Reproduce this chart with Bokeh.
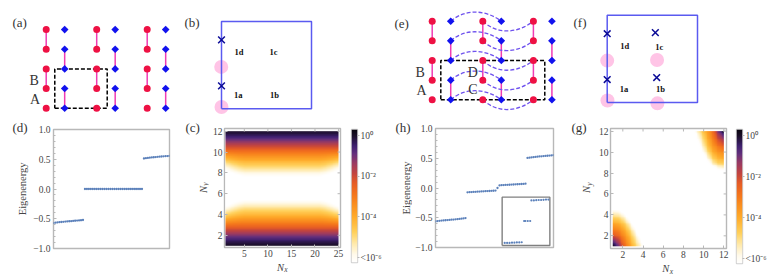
import math
import numpy as np
from bokeh.embed import file_html
from bokeh.layouts import column, row
from bokeh.models import FixedTicker, Label, LinearAxis, LinearColorMapper, Range1d
from bokeh.plotting import figure
from bokeh.resources import INLINE

# ---------- data ----------
red_cols = [0, 1, 2]
blue_cols = [0, 1, 2]
lattice_rows = [0, 1, 2, 3, 4]
red_bonds = [(1, 2), (3, 4)]
blue_bonds = [(0, 1), (2, 3)]
blue_offset = 0.366

b_cross_x = [0, 0]
b_cross_y = [0.79, 0.263]
b_pink_x = [-0.003, 0]
b_pink_y = [0.48, 0.02]
b_names = ["1d", "1c", "1a", "1b"]
b_name_x = [0.144, 0.533, 0.14, 0.54]
b_name_y = [0.645, 0.645, 0.156, 0.156]

f_cross_x = [0, 0.533, 0, 0.548]
f_cross_y = [0.788, 0.80, 0.263, 0.286]
f_pink_x = [0, 0.552, 0.003, 0.556]
f_pink_y = [0.48, 0.486, 0.023, -0.01]
f_names = ["1d", "1c", "1a", "1b"]
f_name_x = [0.144, 0.533, 0.14, 0.54]
f_name_y = [0.650, 0.64, 0.153, 0.153]

d_low = [-0.572, -0.566, -0.562, -0.558, -0.555, -0.552, -0.548, -0.545,
         -0.542, -0.540, -0.537, -0.534, -0.531, -0.528, -0.525, -0.521]
d_mid = [0.0] * 30
d_high = [0.513, 0.518, 0.522, 0.526, 0.530, 0.534, 0.537,
          0.540, 0.543, 0.546, 0.549, 0.551, 0.553, 0.556]

h_low = [-0.561, -0.556, -0.552, -0.548, -0.545, -0.542, -0.539, -0.536,
         -0.533, -0.530, -0.527, -0.524, -0.520, -0.516, -0.511, -0.506]
h_b2 = [-0.072, -0.070, -0.068, -0.066, -0.064, -0.062, -0.060, -0.058,
        -0.056, -0.054, -0.052, -0.050, -0.048, -0.046, -0.044]
h_gap = [0.0]
h_b3 = [0.044, 0.047, 0.049, 0.051, 0.053, 0.055, 0.057,
        0.059, 0.061, 0.063, 0.065, 0.067, 0.069, 0.072]
h_high = [0.505, 0.510, 0.514, 0.518, 0.522, 0.526, 0.530,
          0.533, 0.536, 0.539, 0.542, 0.545, 0.548, 0.552]

inset_x = [1, 2, 3, 4, 5, 6, 7, 8, 9, 9.5, 10.5, 11.5, 12, 13, 14, 15, 16, 17, 18, 19]
inset_y = [-0.100, -0.100, -0.100, -0.099, -0.099, -0.098, -0.098, -0.097,
           0.0, 0.0, 0.0, 0.0, 0.094, 0.094, 0.095, 0.096, 0.096, 0.097, 0.098, 0.098]

# log10 of the weight along Ny at 0.25 steps, panel (c)
c_profile = [0, -0.18, -0.45, -0.8, -1.2, -1.6, -2.0, -2.4, -2.8, -3.2, -3.57,
             -3.93, -4.3, -4.65, -5.0, -5.36, -5.7, -6.05, -6.4, -7, -7, -7, -7, -7, -7, -7,
             -6.4, -6.05, -5.7, -5.36, -5.0, -4.65, -4.3, -3.93, -3.57, -3.2, -2.8,
             -2.4, -2.0, -1.6, -1.2, -0.8, -0.45, -0.18, 0]
# darkening of the faint bands towards the side edges, at Nx = 1, 1.5, 2, ...
c_edge = [-0.8, -0.7, -0.55, -0.42, -0.3, -0.2, -0.12, -0.06] + [0.0] * 33 + \
         [-0.06, -0.12, -0.2, -0.3, -0.42, -0.55, -0.7, -0.8]

g_corner_low = [
    [0.0, -1.0, -2.4, -3.4, -4.4, -5.3, -6.2, -7],
    [-1.0, -1.7, -2.8, -3.7, -4.7, -5.7, -6.6, -7],
    [-2.3, -2.6, -3.3, -4.1, -5.1, -6.2, -7, -7],
    [-3.0, -3.2, -3.8, -4.6, -5.6, -6.8, -7, -7],
    [-3.7, -3.9, -4.4, -5.2, -6.3, -7, -7, -7],
    [-4.5, -4.6, -5.1, -6.0, -7, -7, -7, -7],
    [-5.3, -5.4, -5.9, -6.8, -7, -7, -7, -7],
    [-6.3, -6.4, -7, -7, -7, -7, -7, -7],
]
g_corner_high = [  # from (12, 12) towards lower Nx (columns) and lower Ny (rows)
    [0.0, -1.0, -2.6, -3.6, -4.4, -5.4, -6.4, -7],
    [-1.0, -1.7, -2.9, -3.8, -4.8, -5.8, -7, -7],
    [-1.8, -2.3, -3.2, -4.1, -5.1, -6.2, -7, -7],
    [-2.6, -3.0, -3.6, -4.4, -5.5, -6.7, -7, -7],
    [-3.3, -3.5, -4.0, -4.9, -6.0, -7, -7, -7],
    [-3.9, -4.1, -4.6, -5.5, -6.7, -7, -7, -7],
    [-4.6, -4.7, -5.2, -6.3, -7, -7, -7, -7],
    [-5.6, -5.8, -6.4, -7, -7, -7, -7, -7],
]

energy_ticks = [-1.0, -0.5, 0.0, 0.5, 1.0]
energy_labels = {-1: "−1.0", -0.5: "−0.5", 0: "0.0", 0.5: "0.5", 1: "1.0"}
energy_minor = [-0.9, -0.8, -0.7, -0.6, -0.4, -0.3, -0.2, -0.1, 0.1, 0.2, 0.3, 0.4, 0.6, 0.7, 0.8, 0.9]
c_xticks = [5, 10, 15, 20, 25]
site_ticks = [2, 4, 6, 8, 10, 12]
cbar_ticks = [0, -2, -4, -6]
cbar_labels = {0: "10⁰", -2: "10⁻²", -4: "10⁻⁴", -6: "<10⁻⁶"}

# ---------- style ----------
SERIF = "Liberation Serif"
RED = "#ee1144"
BLUE = "#1212ee"
BOND = "#f03cb4"
WAVE = "#6f52ee"
PINK = "#ffc4e6"
NAVY = "#0a0a96"
BOX = "#5a5af0"
FRAME = "#b8b8b8"
TXT = "#454545"
PT = "#5b80ba"

stops_v = [0.3, 0.0, -0.5, -0.9, -1.35, -1.85, -2.35, -2.9, -3.3, -4.0, -4.75, -5.3, -5.85, -6.24]
stops_c = ["#0a0510", "#1a0e28", "#3f2070", "#64307c", "#9a3a62", "#c2443f", "#e65d25",
           "#f4751c", "#f98a1e", "#ffab2a", "#ffd05a", "#ffe9a8", "#fffaea", "#ffffff"]


def make_palette(n=256):
    out = []
    vs = np.linspace(-6.24, 0.3, n)
    sv = stops_v[::-1]
    sc = [tuple(int(c[i:i + 2], 16) for i in (1, 3, 5)) for c in stops_c[::-1]]
    for v in vs:
        rgb = [int(round(np.interp(v, sv, [s[k] for s in sc]))) for k in range(3)]
        out.append("#%02x%02x%02x" % tuple(rgb))
    return out


mapper = LinearColorMapper(palette=make_palette(), low=-6.24, high=0.3, low_color="#ffffff",
                           high_color="#0a0510")

TOP_T, TOP_B = 0, 118
BOT_T, BOT_B = 118, 275
HEAT_B = 262
COLS = [(0, 183), (183, 392), (392, 568), (568, 770)]


def note(p, l, b, rx, ry, text, size=13, color="#333333", align="left", style="normal",
         angle=0.0):
    # frame of the figure: left edge l, bottom edge b on the page
    p.add_layout(Label(x=rx - l, y=b - ry, x_units="screen", y_units="screen", text=text,
                       text_font=SERIF, text_font_size=f"{size}px", text_color=color,
                       text_align=align, text_baseline="middle", text_font_style=style,
                       angle=angle))


def bare(l, r, t, b, xr=(0, 1), yr=(0, 1)):
    p = figure(width=r - l, height=b - t, output_backend="svg", toolbar_location=None,
               x_range=Range1d(*xr), y_range=Range1d(*yr),
               min_border=0, min_border_left=0, min_border_right=0, min_border_top=0,
               min_border_bottom=0)
    p.axis.visible = False
    p.grid.visible = False
    p.outline_line_color = None
    return p


def scheme(col, x0, sx, y0, sy):
    l, r = COLS[col]
    p = bare(l, r, TOP_T, TOP_B, ((l - x0) / sx, (r - x0) / sx),
             ((y0 - TOP_B) / sy, (y0 - TOP_T) / sy))
    return p, l, TOP_B


def lattice(p):
    xs0, ys0, xs1, ys1 = [], [], [], []
    for c in red_cols:
        for a, b in red_bonds:
            xs0.append(c); xs1.append(c); ys0.append(a); ys1.append(b)
    for c in blue_cols:
        for a, b in blue_bonds:
            xs0.append(c + blue_offset); xs1.append(c + blue_offset); ys0.append(a); ys1.append(b)
    p.segment(xs0, ys0, xs1, ys1, line_color=BOND, line_width=1.5)


def sites(p):
    rx = [c for c in red_cols for _ in lattice_rows]
    ry = [r for _ in red_cols for r in lattice_rows]
    bx = [c + blue_offset for c in blue_cols for _ in lattice_rows]
    by = [r for _ in blue_cols for r in lattice_rows]
    p.scatter(rx, ry, marker="circle", size=7, fill_color=RED, line_color=None)
    p.scatter(bx, by, marker="square", angle=math.pi / 4, size=5.4, fill_color=BLUE, line_color=None)


def dashed_box(p, x0, x1, y0, y1):
    p.line([x0, x1, x1, x0, x0], [y0, y0, y1, y1, y0], line_color="black", line_width=1.5,
           line_dash="4 2")


# ---------- (a) ----------
pa, l, b = scheme(0, 45.7, 50.5, 107.7, 19.65)
lattice(pa)
dashed_box(pa, 0.17, 1.208, 0, 2)
sites(pa)
note(pa, l, b, 12, 22.3, "(a)")
note(pa, l, b, 29, 80, "B", 14)
note(pa, l, b, 29.5, 98.7, "A", 14)

# ---------- (e) ----------
pe, l, b = scheme(2, 431.7, 50.6, 99.3, 19.65)
lattice(pe)
for r in lattice_rows:
    x0 = blue_offset
    pe.bezier(x0=[x0], y0=[r], x1=[x0 + 1], y1=[r], cx0=[x0 + 0.3], cy0=[r + 0.68],
              cx1=[x0 + 0.72], cy1=[r + 0.55], line_color=WAVE, line_width=1.3, line_dash="4 2")
    pe.bezier(x0=[1], y0=[r], x1=[2], y1=[r], cx0=[1.3], cy0=[r - 0.72],
              cx1=[1.7], cy1=[r - 0.6], line_color=WAVE, line_width=1.3, line_dash="4 2")
dashed_box(pe, 0.17, 2.225, 0, 2)
sites(pe)
note(pe, l, b, 394, 22.7, "(e)")
note(pe, l, b, 415, 71.7, "B", 14)
note(pe, l, b, 416, 90, "A", 14)
note(pe, l, b, 472.3, 71.7, "D", 14, align="center")
note(pe, l, b, 472.3, 89.3, "C", 14, align="center")


def cell(col, x0, sx, y0, sy, cx, cy, px, py, nx, ny, names, lab, lab_x, lab_y):
    p, l, b = scheme(col, x0, sx, y0, sy)
    p.scatter(px, py, marker="circle", size=14, fill_color=PINK, line_color=None)
    p.line([0, 1, 1, 0, 0], [0, 0, 1, 1, 0], line_color=BOX, line_width=1.5)
    p.scatter(cx, cy, marker="x", size=9.5, line_color=NAVY, line_width=1.5)
    for t, xx, yy in zip(names, nx, ny):
        note(p, l, b, x0 + xx * sx, y0 - yy * sy, t, 8.5, "#111111", "left", "bold")
    note(p, l, b, lab_x, lab_y, lab)
    return p


# ---------- (b), (f) ----------
pb = cell(1, 221, 90, 108.3, 87.3, b_cross_x, b_cross_y, b_pink_x, b_pink_y,
          b_name_x, b_name_y, b_names, "(b)", 184, 22.3)
pf = cell(3, 606.7, 90.3, 102, 87.3, f_cross_x, f_cross_y, f_pink_x, f_pink_y,
          f_name_x, f_name_y, f_names, "(f)", 573, 22)


def panel(l, r, b, fl, fr, ft, fb, xr, yr, outline=FRAME):
    p = figure(width=r - l, height=b - BOT_T, output_backend="svg", toolbar_location=None,
               x_range=Range1d(*xr), y_range=Range1d(*yr), x_axis_location=None, y_axis_location=None,
               min_border_left=round(fl - l), min_border_right=round(r - fr),
               min_border_top=round(ft - BOT_T), min_border_bottom=round(b - fb))
    p.grid.visible = False
    p.outline_line_color = outline
    p.outline_line_width = 1.4
    return p


def style_axis(ax):
    ax.axis_line_color = None
    ax.major_tick_line_color = FRAME
    ax.minor_tick_line_color = FRAME
    ax.major_tick_in = 3
    ax.major_tick_out = 0
    ax.minor_tick_in = 2
    ax.minor_tick_out = 0
    ax.major_label_text_font = SERIF
    ax.major_label_text_font_size = "9.5px"
    ax.major_label_text_color = TXT
    ax.major_label_standoff = 3


def energy_panel(sl, pl, r, fl, fr, ft, fb, groups, lab, lab_x, lab_y, yl_x):
    strip = bare(sl, pl, BOT_T, BOT_B)
    note(strip, sl, BOT_B, lab_x, lab_y, lab)
    note(strip, sl, BOT_B, yl_x, (ft + fb) / 2, "Eigenenergy", 10.5, TXT, "center", angle=math.pi / 2)
    p = panel(pl, r, BOT_B, fl, fr, ft, fb, (1, 60), (-1, 1))
    ax = LinearAxis(ticker=FixedTicker(ticks=energy_ticks, minor_ticks=energy_minor),
                    major_label_overrides=energy_labels)
    style_axis(ax)
    p.add_layout(ax, "left")
    n = 1
    xs, ys = [], []
    for gr in groups:
        for v in gr:
            xs.append(n); ys.append(v); n += 1
    p.scatter(xs, ys, marker="circle", size=2.3, fill_color=PT, line_color=None)
    return strip, p


sd, pd_ = energy_panel(0, 30, 183, 50, 169.3, 128.7, 248, [d_low, d_mid, d_high], "(d)", 12, 127, 21.7)
sh, ph = energy_panel(392, 412, 568, 433, 553, 127.7, 247.3, [h_low, h_b2, h_gap, h_b3, h_high],
                      "(h)", 395, 126.5, 405.5)

# inset of (h), on its own scales
ph.extra_x_ranges["ix"] = Range1d(-27.5, 21.1)
ph.extra_y_ranges["iy"] = Range1d(-0.121, 0.4227)
ph.line([-0.05, 19.6, 19.6, -0.05, -0.05], [-0.112, -0.112, 0.109, 0.109, -0.112],
        x_range_name="ix", y_range_name="iy", line_color="#808080", line_width=1.4)
ph.scatter(inset_x, inset_y, x_range_name="ix", y_range_name="iy", marker="circle", size=2.2,
           fill_color=PT, line_color=None)


def upsample(table, factor):
    # smooth density drawing of a table read at coarse steps
    t = np.asarray(table, dtype=float)
    yi = np.linspace(0, t.shape[0] - 1, (t.shape[0] - 1) * factor + 1)
    xi = np.linspace(0, t.shape[1] - 1, (t.shape[1] - 1) * factor + 1)
    a = np.array([np.interp(yi, np.arange(t.shape[0]), t[:, j]) for j in range(t.shape[1])]).T
    return np.array([np.interp(xi, np.arange(t.shape[1]), a[i]) for i in range(a.shape[0])])


def solo(x):
    # a layout of its own, so that neighbours do not line up this figure's borders
    return column(x, spacing=0)


def heat_panel(sl, pl, r, fl, fr, ft, fb, xr, yr, img, iw, xticks, lab, lab_x, lab_y, nx_x, nx_y, ny_x, ny_y):
    strip = bare(sl, pl, BOT_T, BOT_B)
    note(strip, sl, BOT_B, lab_x, lab_y, lab)
    note(strip, sl, BOT_B, ny_x, ny_y, "N", 10.5, TXT, "center", "italic", angle=math.pi / 2)
    note(strip, sl, BOT_B, ny_x + 2.5, ny_y - 5.5, "y", 7.5, TXT, "center", "italic", angle=math.pi / 2)
    p = panel(pl, r, HEAT_B, fl, fr, ft, fb, xr, yr)
    p.image(image=[img], x=1, y=1, dw=iw, dh=11, color_mapper=mapper)
    for side, ticks in (("below", xticks), ("left", site_ticks)):
        ax = LinearAxis(ticker=FixedTicker(ticks=ticks))
        style_axis(ax)
        ax.major_label_standoff = 2
        p.add_layout(ax, side)
    ylen = 3 * (yr[1] - yr[0]) / (fb - ft)
    xlen = 3 * (xr[1] - xr[0]) / (fr - fl)
    p.segment(xticks, [yr[1]] * len(xticks), xticks, [yr[1] - ylen] * len(xticks),
              line_color=FRAME, line_width=1)
    p.segment([xr[1]] * len(site_ticks), site_ticks, [xr[1] - xlen] * len(site_ticks), site_ticks,
              line_color=FRAME, line_width=1)
    under = bare(pl, r, HEAT_B, BOT_B)
    note(under, pl, BOT_B, nx_x, nx_y, "N", 10.5, TXT, "center", "italic")
    note(under, pl, BOT_B, nx_x + 5.5, nx_y + 2.5, "x", 7.5, TXT, "center", "italic")
    return row(solo(strip), column(row(p, spacing=0), row(under, spacing=0), spacing=0), spacing=0)


def bar_panel(l, r, bl, bt, bb):
    p = panel(l, r, BOT_B, bl, bl + 6, bt, bb, (0, 1), (-6.24, 0.3), outline="#cfcfcf")
    ramp = np.linspace(-6.24, 0.3, 256)[:, None]
    p.image(image=[ramp], x=0, y=-6.24, dw=1, dh=6.54, color_mapper=mapper)
    ax = LinearAxis(ticker=FixedTicker(ticks=cbar_ticks), major_label_overrides=cbar_labels)
    style_axis(ax)
    ax.major_tick_in = 0
    ax.major_tick_out = 2
    ax.major_label_standoff = 1
    ax.major_label_orientation = "horizontal"
    p.add_layout(ax, "right")
    return p


# (c) image
weight = np.clip((-np.array(c_profile) - 2.5) / 2.5, 0, 1)
img_c = np.array(c_profile)[:, None] + weight[:, None] * np.array(c_edge)[None, :]
pc = heat_panel(183, 209, 345, 222, 340, 128, 246.7, (0.79, 25.42), (0.836, 12.26), upsample(img_c, 4), 24,
                c_xticks, "(c)", 185, 127, 280, 266.7, 202.7, 189)
pcb = bar_panel(345, 392, 351, 129, 261.7)

# (g) image
img_g = np.full((23, 23), -7.0)
img_g[:8, :8] = np.array(g_corner_low)
img_g[22:14:-1, 22:14:-1] = np.array(g_corner_high)
pg = heat_panel(568, 595, 731, 605.3, 725.7, 128.3, 248, (0.78, 12.26), (0.79, 12.25), upsample(img_g, 6), 11,
                site_ticks, "(g)", 571, 126.5, 665.3, 268, 586.3, 189)
pgb = bar_panel(731, 770, 736.3, 129, 262.7)

page = column(row(solo(pa), solo(pb), solo(pe), solo(pf), spacing=0),
              row(solo(sd), solo(pd_), pc, solo(pcb), solo(sh), solo(ph), pg, solo(pgb), spacing=0),
              spacing=0)
open("out.html", "w").write(file_html(page, INLINE))
